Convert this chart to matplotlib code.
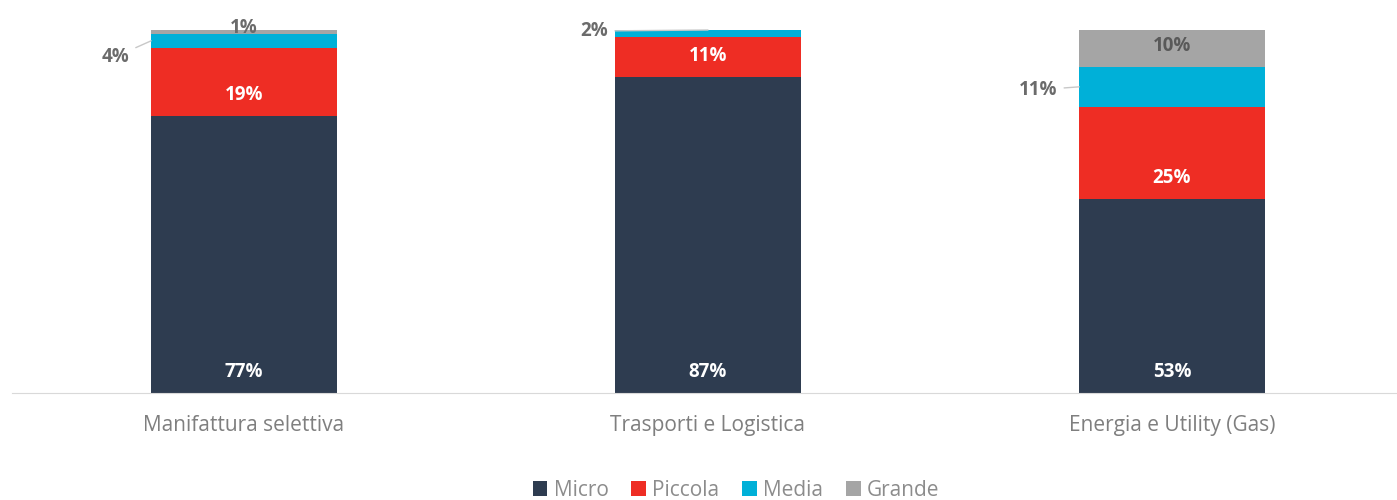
import numpy as np
from matplotlib import pyplot as plt

plt.rcParams['font.family'] = ['Open Sans', 'DejaVu Sans']

categories = ['Manifattura selettiva', 'Trasporti e Logistica', 'Energia e Utility (Gas)']
series = ['Micro', 'Piccola', 'Media', 'Grande']
micro = [77, 87, 53]
piccola = [19, 11, 25]
media = [4, 2, 11]
grande = [1, 0, 10]

colors = ['#2E3C50', '#EE2D24', '#00B0D8', '#A5A5A5']
inner_text = ['white', 'white', 'white', '#595959']
outer_grey = '#6b6b6b'

# small labels drawn outside the bar: (category, series) -> (anchor, offset px, ha)
outside = {
    (0, 2): ('left', (-22, -16), 'right'),
    (0, 3): ('top', (0, 2), 'center'),
    (1, 2): ('top', (-100, -1), 'right'),
    (2, 2): ('left', (-22, -3), 'right'),
}

values = np.array([micro, piccola, media, grande], dtype=float)
shares = values / values.sum(axis=0) * 100

fig = plt.figure(figsize=(13.97, 5), dpi=100)
ax = fig.add_axes([12 / 1397, 107 / 500, 1392 / 1397, 363 / 500])

x = np.arange(len(categories))
width = 0.4
bottom = np.zeros(len(categories))
for s, name in enumerate(series):
    ax.bar(x, shares[s], width, bottom=bottom, color=colors[s], label=name, linewidth=0)
    for i in range(len(categories)):
        v = values[s, i]
        if v == 0:
            continue
        txt = f'{int(v)}%'
        if (i, s) in outside:
            anchor, off, ha = outside[(i, s)]
            mid = bottom[i] + shares[s, i] / 2
            if anchor == 'left':
                xy = (x[i] - width / 2, mid)
            else:
                xy = (x[i], bottom[i] + shares[s, i])
            pt = (off[0] * 0.72, off[1] * 0.72)
            if off[0] == 0:
                ax.annotate(txt, xy, xytext=pt, textcoords='offset points',
                            ha='center', va='center', fontsize=13.5,
                            fontweight='bold', color=outer_grey)
            else:
                ax.annotate(txt, xy, xytext=pt, textcoords='offset points',
                            ha=ha, va='center', fontsize=13.5,
                            fontweight='bold', color=outer_grey,
                            arrowprops=dict(arrowstyle='-', color='#c8c8c8',
                                            lw=1, shrinkA=3, shrinkB=0))
        else:
            ax.annotate(txt, (x[i], bottom[i]), xytext=(0, 15),
                        textcoords='offset points', ha='center', va='center',
                        fontsize=13.5, fontweight='bold', color=inner_text[s])
    bottom += shares[s]

ax.set_xlim(-0.5, 2.5)
ax.set_ylim(0, 100)
ax.set_xticks(x)
ax.set_xticklabels(categories, fontsize=15, color='#7f7f7f')
ax.tick_params(axis='x', length=0, pad=16)
ax.set_yticks([])
for side in ['top', 'right', 'left']:
    ax.spines[side].set_visible(False)
ax.spines['bottom'].set_color('#d9d9d9')

fig.legend(loc='center', bbox_to_anchor=(736 / 1397, 10 / 500), ncol=4,
           frameon=False, fontsize=15, labelcolor='#8c8c8c',
           handlelength=0.7, handleheight=0.7, handletextpad=0.3,
           columnspacing=1.1)

fig.savefig('out.png', dpi=100)
